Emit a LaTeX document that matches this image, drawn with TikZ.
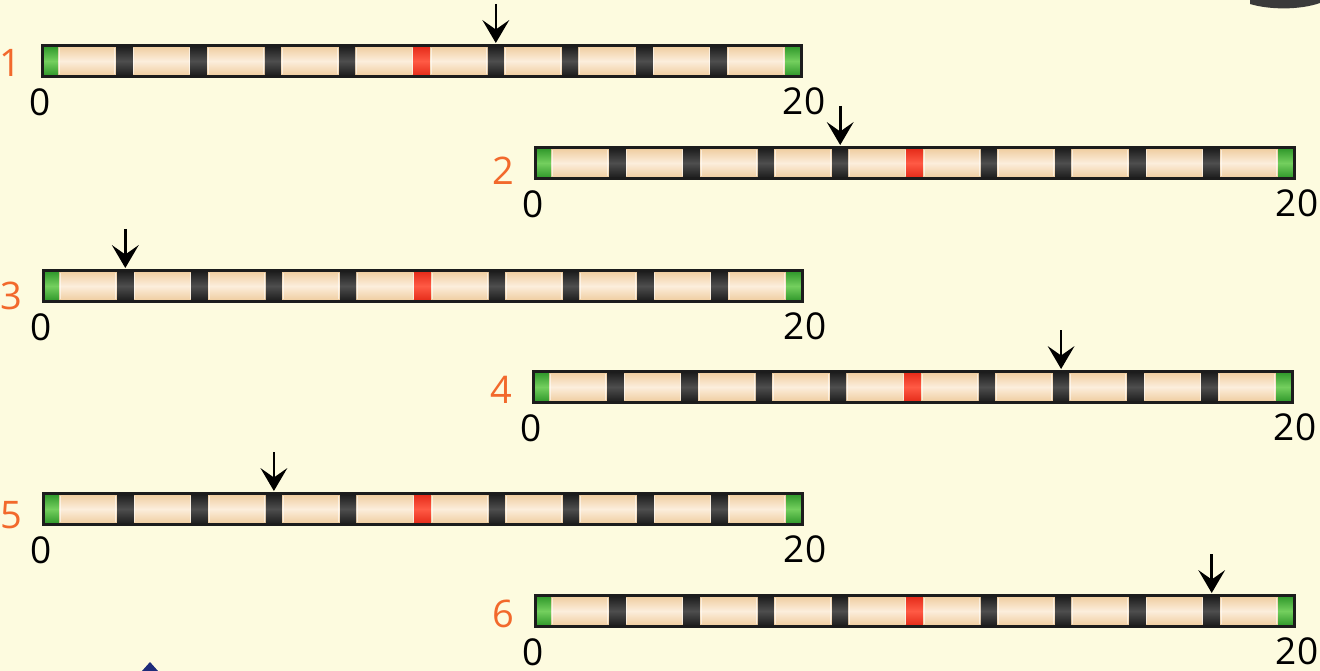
\documentclass[tikz,border=0pt]{standalone}
\usepackage{fontspec}
\setmainfont{Open Sans}

\definecolor{paper}{HTML}{FDFBDF}
\definecolor{beigeD}{HTML}{EFCC9E}
\definecolor{beigeL}{HTML}{FCEEDC}
\definecolor{bandD}{HTML}{1C1C1C}
\definecolor{bandL}{HTML}{4E4E4E}
\definecolor{redD}{HTML}{E42A18}
\definecolor{redL}{HTML}{FF5A45}
\definecolor{greenD}{HTML}{2E972A}
\definecolor{greenL}{HTML}{74CF5E}
\definecolor{numorange}{HTML}{F2692C}
\definecolor{bargray}{HTML}{3A3A3A}
\definecolor{navy}{HTML}{1E2C7A}

\tikzset{
  barfill/.style={top color=beigeD, bottom color=beigeD, middle color=beigeL},
  darkband/.style={top color=bandD, bottom color=bandD, middle color=bandL},
  redband/.style={top color=redD, bottom color=redD, middle color=redL},
  greencap/.style={top color=greenD, bottom color=greenD, middle color=greenL},
  bandedge/.style={draw=white, opacity=0.55, line width=0.9pt},
  barline/.style={draw=bandD, line width=3pt},
  pointer/.style={draw=black, line width=2.6pt},
  pointerhead/.style={fill=black},
  endlabel/.style={font=\fontsize{37}{40}\selectfont, text=black, inner sep=0pt},
  numlabel/.style={font=\fontsize{38}{40}\selectfont, text=numorange, inner sep=0pt},
}

% #1 name, #2 left x, #3 centre y, #4 marked band, #5 number, #6 number offset
\newcommand\chromosome[6]{%
\begin{scope}[shift={(#2,#3)}]
  \shade[barfill] (0,-15) rectangle (759,15);
  \foreach \k in {1,...,9}{
    \pgfmathsetmacro\cx{8+74.3*\k}
    \ifnum\k=5
      \shade[redband] (\cx-8,-15) rectangle (\cx+8,15);
    \else
      \shade[darkband] (\cx-8,-15) rectangle (\cx+8,15);
    \fi
    \draw[bandedge] (\cx-9.5,-13) -- (\cx-9.5,13);
    \draw[bandedge] (\cx+9.5,-13) -- (\cx+9.5,13);
    \coordinate (#1-b\k) at (\cx,-18);
  }
  \shade[greencap] (1,-15) rectangle (16,15);
  \shade[greencap] (743,-15) rectangle (758,15);
  \draw[bandedge] (17.5,-13) -- (17.5,13);
  \draw[bandedge] (741.5,-13) -- (741.5,13);
  \draw[barline] (0,-15.5) rectangle (759,15.5);
  % marker pointing down onto the chosen band
  \coordinate (#1-top) at (8+74.3*#4,-57);
  \draw[pointer] (#1-top) -- ([yshift=12pt]#1-b#4);
  \fill[pointerhead] (#1-b#4) -- ++(-13.5,-23) -- ++(13.5,9.5) -- ++(13.5,-9.5) -- cycle;
  \node[endlabel] (#1-zero) at (-2,41) {0};
  \node[endlabel] (#1-end) at (762,40) {20};
  \node[numlabel] (#1-num) at (-32,#6) {#5};
\end{scope}}

\begin{document}
\begin{tikzpicture}[x=1pt,y=-1pt]
  \fill[paper] (0,0) rectangle (1320,671);
  \useasboundingbox (0,0) rectangle (1320,671);

  % pieces of neighbouring artwork at the edges
  \fill[bargray] (1250,0) -- (1320,0) -- (1320,3)
    .. controls (1300,10) and (1270,10) .. (1250,4) -- cycle;
  \fill[navy] (142,671) -- (150,662) -- (158,671) -- cycle;

  \chromosome{c1}{42}{61}{6}{1}{2}
  \chromosome{c2}{535}{163}{4}{2}{8}
  \chromosome{c3}{43}{286}{1}{3}{10}
  \chromosome{c4}{533}{387}{7}{4}{3}
  \chromosome{c5}{43}{509}{3}{5}{6}
  \chromosome{c6}{535}{611}{9}{6}{3}
\end{tikzpicture}
\end{document}
